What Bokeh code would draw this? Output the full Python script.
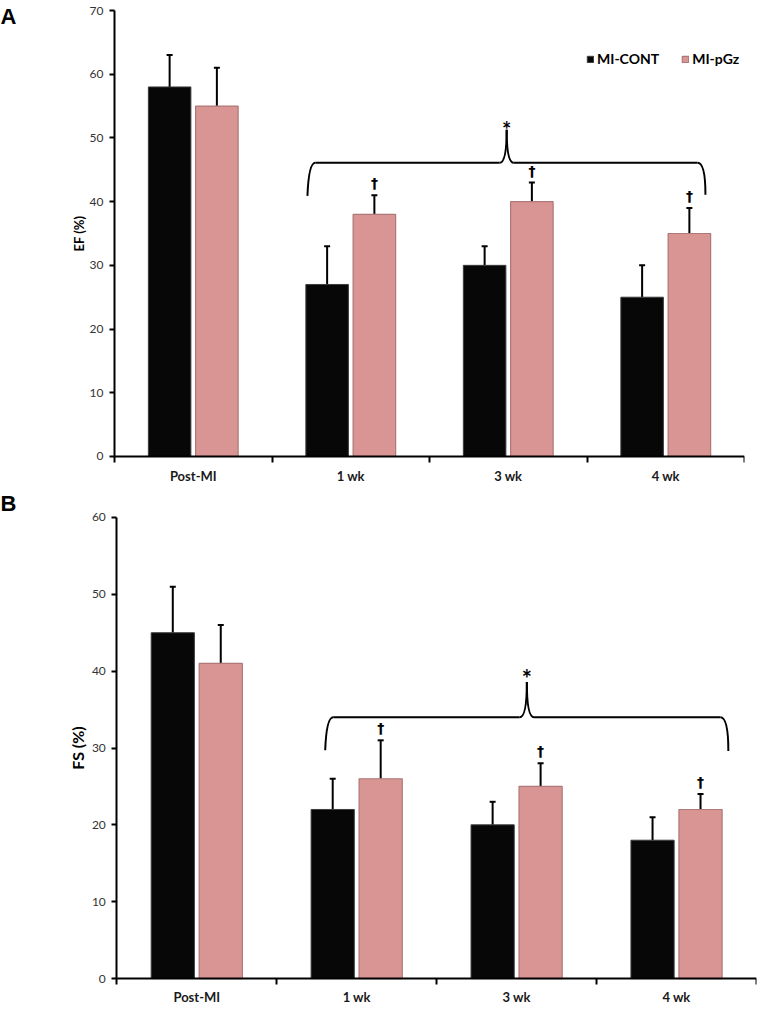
import numpy as np
from bokeh.plotting import figure
from bokeh.models import (ColumnDataSource, Range1d, FixedTicker, Whisker, TeeHead,
                          Legend, LegendItem)
from bokeh.layouts import column
from bokeh.core.properties import value
from bokeh.embed import file_html
from bokeh.resources import INLINE

# ---------------- data ----------------
categories = ["Post-MI", "1 wk", "3 wk", "4 wk"]
series_names = ["MI-CONT", "MI-pGz"]

ef_cont = [58, 27, 30, 25]
ef_cont_err = [5, 6, 3, 5]
ef_pgz = [55, 38, 40, 35]
ef_pgz_err = [6, 3, 3, 4]

fs_cont = [45, 22, 20, 18]
fs_cont_err = [6, 4, 3, 3]
fs_pgz = [41, 26, 25, 22]
fs_pgz_err = [5, 5, 3, 2]

ef_ticks = [0, 10, 20, 30, 40, 50, 60, 70]
fs_ticks = [0, 10, 20, 30, 40, 50, 60]

# significance brace: x_left, x_peak, x_right, y_left_end, y_line, y_peak, y_right_end
ef_brace = [1.225, 2.49, 3.752, 40.9, 46.1, 51.3, 41.1]
fs_brace = [1.303, 2.564, 3.824, 29.7, 34.0, 38.6, 29.6]
dagger_idx = [1, 2, 3]

BLACK = "#070707"
PINK = "#d99594"
FONT = "Lato"


def make_panel(cont, cont_err, pgz, pgz_err, ticks, ylabel, brace, letter,
               width, height, x_start, y_start, y_end, br, ylab_size, ylab_standoff,
               star_size, star_off, xlab_standoff, legend=None):
    ntick = len(categories)
    p = figure(width=width, height=height, x_range=Range1d(x_start, ntick),
               y_range=Range1d(y_start, y_end), output_backend="svg",
               toolbar_location=None, min_border_left=0, min_border_right=br,
               min_border_top=0, min_border_bottom=0)
    p.xgrid.visible = False
    p.ygrid.visible = False
    p.outline_line_color = None

    centers = np.arange(ntick) + 0.5
    xc = centers - 0.15
    xp = centers + 0.15
    up_c = np.add(cont, cont_err)
    up_p = np.add(pgz, pgz_err)
    src_c = ColumnDataSource(dict(x=xc, top=cont, upper=up_c))
    src_p = ColumnDataSource(dict(x=xp, top=pgz, upper=up_p))

    rc = p.vbar(x="x", top="top", bottom=0, width=0.27, source=src_c,
                fill_color=BLACK, line_color="#3c3c3c", line_width=1)
    rp = p.vbar(x="x", top="top", bottom=0, width=0.27, source=src_p,
                fill_color=PINK, line_color="#ad7877", line_width=1.2)

    for src in (src_c, src_p):
        w = Whisker(source=src, base="x", upper="upper", lower="top",
                    dimension="height", line_width=2, line_color="black",
                    upper_head=TeeHead(size=6, line_width=2, line_color="black"),
                    lower_head=None)
        p.add_layout(w)

    # brace
    bx0, bxp, bx1, ybl, yh, ypk, ybr = brace
    d = 0.05
    e = 0.045
    kw = dict(line_color="black", line_width=2)
    p.quadratic(x0=[bx0], y0=[ybl], cx=[bx0 + 0.008], cy=[yh], x1=[bx0 + d], y1=[yh], **kw)
    p.segment(x0=[bx0 + d, bxp + e], y0=[yh, yh], x1=[bxp - e, bx1 - d], y1=[yh, yh], **kw)
    p.quadratic(x0=[bxp - e], y0=[yh], cx=[bxp], cy=[yh], x1=[bxp], y1=[ypk], **kw)
    p.quadratic(x0=[bxp], y0=[ypk], cx=[bxp], cy=[yh], x1=[bxp + e], y1=[yh], **kw)
    p.quadratic(x0=[bx1 - d], y0=[yh], cx=[bx1], cy=[yh], x1=[bx1], y1=[ybr], **kw)
    p.text(x=[bxp], y=[ypk], text=["*"], text_align="center",
           text_baseline="alphabetic", y_offset=star_off, text_font=value(FONT),
           text_font_style="bold", text_font_size=star_size, text_color="black")

    # daggers
    p.text(x=[xp[i] for i in dagger_idx], y=[up_p[i] for i in dagger_idx],
           text=["\u2020"] * len(dagger_idx), text_align="center",
           text_baseline="middle", y_offset=-12, text_font=value("DejaVu Sans"),
           text_font_style="bold", text_font_size="14px", text_color="black")

    # panel letter
    p.text(x=[x_start], y=[y_end], text=[letter], text_align="left",
           text_baseline="top", x_offset=0, y_offset=3,
           text_font=value("Liberation Sans"), text_font_style="bold",
           text_font_size="22px", text_color="black")

    # axes
    xa = p.xaxis[0]
    xa.fixed_location = 0
    xa.bounds = (0, ntick)
    xa.ticker = FixedTicker(ticks=list(centers), minor_ticks=list(range(ntick + 1)))
    xa.major_label_overrides = {float(c): lab for c, lab in zip(centers, categories)}
    xa.major_tick_out = 0
    xa.major_tick_in = 0
    xa.minor_tick_out = 6
    xa.minor_tick_in = 0
    xa.minor_tick_line_color = "black"
    xa.minor_tick_line_width = 2
    xa.axis_line_width = 2
    xa.axis_line_color = "black"
    xa.major_label_standoff = xlab_standoff
    xa.major_label_text_font = FONT
    xa.major_label_text_font_style = "bold"
    xa.major_label_text_font_size = "13px"
    xa.major_label_text_color = "#1a1a1a"

    ya = p.yaxis[0]
    ya.fixed_location = 0
    ya.bounds = (ticks[0], ticks[-1])
    ya.ticker = FixedTicker(ticks=ticks)
    ya.major_tick_out = 5
    ya.major_tick_in = 0
    ya.minor_tick_out = 0
    ya.minor_tick_in = 0
    ya.major_tick_line_width = 2
    ya.axis_line_width = 2
    ya.axis_line_color = "black"
    ya.major_label_standoff = 6
    ya.major_label_text_font = FONT
    ya.major_label_text_font_size = "12px"
    ya.major_label_text_color = "#333333"
    ya.axis_label = ylabel
    ya.axis_label_text_font = FONT
    ya.axis_label_text_font_style = "bold"
    ya.axis_label_text_font_size = ylab_size
    ya.axis_label_text_color = "black"
    ya.axis_label_standoff = ylab_standoff

    if legend is not None:
        lg = Legend(items=[LegendItem(label=series_names[0], renderers=[rc]),
                           LegendItem(label=series_names[1], renderers=[rp])],
                    orientation="horizontal", location=legend,
                    border_line_alpha=0, background_fill_alpha=0, padding=0,
                    margin=0, glyph_width=8, glyph_height=8, label_standoff=3,
                    spacing=22, label_text_font=FONT, label_text_font_style="bold",
                    label_text_font_size="14px", label_text_color="black")
        p.add_layout(lg, "center")
    return p


pA = make_panel(ef_cont, ef_cont_err, ef_pgz, ef_pgz_err, ef_ticks, "EF (%)", ef_brace,
                "A", width=768, height=487, x_start=-114 / 157.5, y_start=-4.866,
                y_end=71.57, br=24, ylab_size="13px", ylab_standoff=0,
                star_size="22px", star_off=0, xlab_standoff=6, legend=(586, 420))
pB = make_panel(fs_cont, fs_cont_err, fs_pgz, fs_pgz_err, fs_ticks, "FS (%)", fs_brace,
                "B", width=780, height=522, x_start=-120 / 165.0, y_start=-4.03,
                y_end=63.90, br=0, ylab_size="16px", ylab_standoff=2,
                star_size="24px", star_off=-3, xlab_standoff=4)

layout = column(pA, pB, spacing=0)
open("out.html", "w").write(file_html(layout, INLINE))
